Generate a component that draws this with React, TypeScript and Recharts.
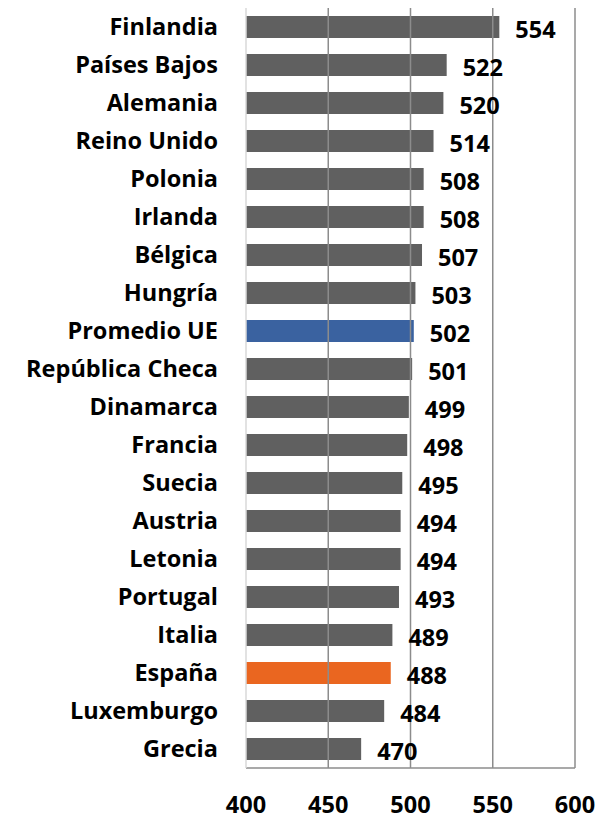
import React from 'react';
import { Bar, BarChart, Cell, LabelList, ReferenceLine, XAxis, YAxis } from 'recharts';

const countries = [
  'Finlandia',
  'Países Bajos',
  'Alemania',
  'Reino Unido',
  'Polonia',
  'Irlanda',
  'Bélgica',
  'Hungría',
  'Promedio UE ',
  'República Checa',
  'Dinamarca',
  'Francia',
  'Suecia',
  'Austria',
  'Letonia',
  'Portugal',
  'Italia',
  'España',
  'Luxemburgo',
  'Grecia',
];
const scores = [554, 522, 520, 514, 508, 508, 507, 503, 502, 501, 499, 498, 495, 494, 494, 493, 489, 488, 484, 470];
const xTicks = [400, 450, 500, 550, 600];
const gridValues = [450, 500, 550, 600];

const data = countries.map((name, i) => ({ name, score: scores[i] }));

const FONT = '"Open Sans", sans-serif';
const FONT_SIZE = 23.5;

function barColor(name: string) {
  if (name.startsWith('Promedio')) return '#3a62a0';
  if (name === 'España') return '#ea6620';
  return '#606060';
}

function ValueLabel(props: any) {
  const { x, y, width, height, value } = props;
  return (
    <text
      x={x + width + 16}
      y={y + height / 2 + 2}
      dominantBaseline="central"
      textAnchor="start"
      fontFamily={FONT}
      fontWeight={700}
      fontSize={FONT_SIZE}
      fill="#000"
    >
      {value}
    </text>
  );
}

export default function App() {
  return (
    <div style={{ position: 'absolute', left: 0, top: 0, background: '#fff' }}>
      <BarChart
        width={600}
        height={821}
        data={data}
        layout="vertical"
        margin={{ top: 8, right: 25, left: 0, bottom: 0 }}
        barSize={22}
      >
        <XAxis
          type="number"
          domain={[400, 600]}
          ticks={xTicks}
          allowDataOverflow
          axisLine={{ stroke: '#8c8c8c', strokeWidth: 1.5 }}
          tickLine={false}
          tickSize={0}
          tickMargin={28}
          height={53}
          tick={{ fontFamily: FONT, fontWeight: 700, fontSize: FONT_SIZE, fill: '#000' }}
          interval={0}
        />
        <XAxis
          xAxisId="top"
          orientation="top"
          type="number"
          domain={[400, 600]}
          height={0}
          tick={false}
          tickLine={false}
          axisLine={{ stroke: '#d9d9d9', strokeWidth: 1.5 }}
        />
        <YAxis
          type="category"
          dataKey="name"
          width={246}
          tickLine={false}
          tickSize={0}
          tickMargin={28}
          axisLine={{ stroke: '#d9d9d9', strokeWidth: 1.5 }}
          tick={{ fontFamily: FONT, fontWeight: 700, fontSize: FONT_SIZE, fill: '#000' }}
          interval={0}
        />
        {gridValues.map((v) => (
          <ReferenceLine key={`grid-${v}`} x={v} stroke="#8c8c8c" strokeWidth={1.5} />
        ))}
        <Bar dataKey="score" isAnimationActive={false}>
          {data.map((d) => (
            <Cell key={`cell-${d.name}`} fill={barColor(d.name)} />
          ))}
          <LabelList dataKey="score" content={<ValueLabel />} />
        </Bar>
      </BarChart>
    </div>
  );
}
